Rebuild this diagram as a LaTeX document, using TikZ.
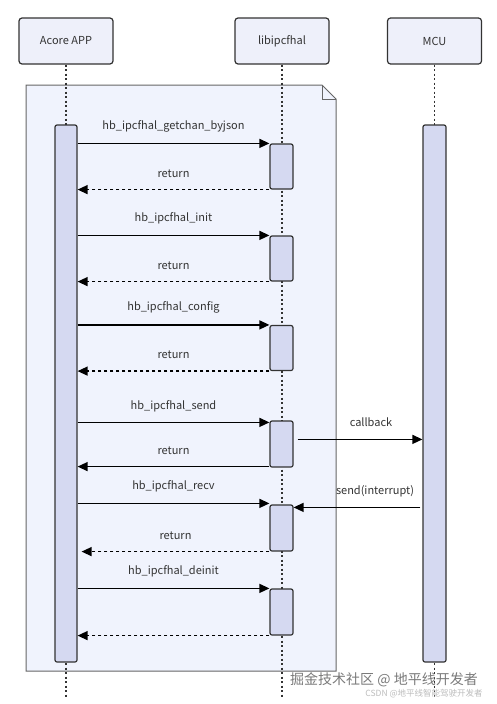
\documentclass[tikz,border=0pt]{standalone}
\usepackage{fontspec}
\setmainfont{Noto Sans CJK SC}
\usetikzlibrary{arrows.meta,positioning,calc}
\definecolor{ink}{HTML}{333333}
\definecolor{partfill}{HTML}{EEF0FA}
\definecolor{actfill}{HTML}{D5D9F1}
\definecolor{framefill}{HTML}{F0F3FD}
\definecolor{framedraw}{HTML}{666666}
\definecolor{wmdark}{HTML}{7A7A7A}
\definecolor{wmlight}{HTML}{BDBDBD}
\tikzset{
  partbox/.style={
    rectangle, rounded corners=3pt, draw=ink, fill=partfill,
    line width=1.2pt, minimum width=94pt, minimum height=46pt,
    font=\fontsize{11}{13}\selectfont, text=ink
  },
  actbox/.style={
    rectangle, rounded corners=2pt, draw=ink, fill=actfill,
    line width=1.2pt, minimum width=22pt, minimum height=#1,
    inner sep=0pt
  },
  actbox/.default=45pt,
  lifeline/.style={ink, line width=1.2pt, dash pattern=on 2pt off 2.5pt},
  callarrow/.style={
    -{Triangle[length=10pt,width=9pt]}, line width=1.25pt, black
  },
  retarrow/.style={callarrow, dash pattern=on 3pt off 3pt},
  msglabel/.style={font=\fontsize{11}{13}\selectfont, text=ink, inner sep=1pt},
  wmark/.style={font=\fontsize{#1}{#1}\selectfont, inner sep=0pt},
}

\begin{document}
\begin{tikzpicture}[x=1pt, y=-1pt]
\useasboundingbox[fill=white] (0,0) rectangle (496,704);

% participants
\node[partbox] (acore) at (66,41) {Acore APP};
\node[partbox] (lib) at (282,41) {libipcfhal};
\node[partbox] (mcu) at (434.5,41) {MCU};

% group frame
\draw[fill=framefill, draw=framedraw, line width=1pt]
  (26,85) -- (322,85) -- (336,99) -- (336,671) -- (26,671) -- cycle;
\draw[draw=framedraw, line width=1pt] (322,85) -- (322,99) -- (336,99);

% lifelines
\coordinate (aEnd) at (66,697);
\coordinate (lEnd) at (282,697);
\coordinate (mEnd) at (434.5,697);
\draw[lifeline] (acore.south) -- (aEnd);
\draw[lifeline] (lib.south) -- (lEnd);
\draw[lifeline] (mcu.south) -- (mEnd);

% activations
\node[actbox=537pt] (aAct) at (66,393.5) {};
\node[actbox=537pt, minimum width=23pt] (mAct) at (434.5,393.5) {};
\node[actbox, minimum width=23pt] (lAct1) at (281.5,166.5) {};
\node[actbox, minimum width=23pt] (lAct2) at (281.5,258.5) {};
\node[actbox, minimum width=23pt] (lAct3) at (281.5,348) {};
\node[actbox=46pt, minimum width=23pt] (lAct4) at (281.5,444) {};
\node[actbox=46pt, minimum width=23pt] (lAct5) at (281.5,528) {};
\node[actbox=46pt, minimum width=23pt] (lAct6) at (281.5,612) {};

% messages
\draw[callarrow] (aAct.east |- lAct1.north) -- (lAct1.north west)
  node[msglabel, midway, yshift=17pt] {hb\_ipcfhal\_getchan\_byjson};
\draw[retarrow] (lAct1.south west) -- (aAct.east |- lAct1.south)
  node[msglabel, midway, yshift=16pt] {return};
\draw[callarrow] (aAct.east |- lAct2.north) -- (lAct2.north west)
  node[msglabel, midway, yshift=17pt] {hb\_ipcfhal\_init};
\draw[retarrow] (lAct2.south west) -- (aAct.east |- lAct2.south)
  node[msglabel, midway, yshift=16pt] {return};
\draw[callarrow] (aAct.east |- lAct3.north) -- (lAct3.north west)
  node[msglabel, midway, yshift=17pt] {hb\_ipcfhal\_config};
\draw[retarrow] (lAct3.south west) -- (aAct.east |- lAct3.south)
  node[msglabel, midway, yshift=16pt] {return};
\draw[callarrow] ([yshift=-2pt]aAct.east |- lAct4.north) -- ([yshift=-2pt]lAct4.north west)
  node[msglabel, midway, yshift=16pt] {hb\_ipcfhal\_send};
\draw[callarrow] ([xshift=4pt, yshift=-19pt]lAct4.north east) -- ([yshift=-19pt]mAct.west |- lAct4.north)
  node[msglabel, midway, xshift=11pt, yshift=17pt] {callback};
\draw[callarrow] ([yshift=1pt]lAct4.south west) -- ([yshift=1pt]aAct.east |- lAct4.south)
  node[msglabel, midway, yshift=16pt] {return};
\draw[callarrow] ([yshift=1pt]aAct.east |- lAct5.north) -- ([yshift=1pt]lAct5.north west)
  node[msglabel, midway, yshift=17pt] {hb\_ipcfhal\_recv};
\draw[callarrow] ([xshift=-2pt, yshift=-3pt]mAct.west |- lAct5.north) -- ([yshift=-3pt]lAct5.north east)
  node[msglabel, midway, xshift=18pt, yshift=16pt] {send(interrupt)};
\draw[retarrow] (lAct5.south west) -- ([xshift=4pt]aAct.east |- lAct5.south)
  node[msglabel, midway, yshift=16pt] {return};
\draw[callarrow] (aAct.east |- lAct6.north) -- (lAct6.north west)
  node[msglabel, midway, yshift=17pt] {hb\_ipcfhal\_deinit};
\draw[retarrow] (lAct6.south west) -- (aAct.east |- lAct6.south);

% watermark
\node[wmark=14, text=wmdark] (wm1) at (384,680) {掘金技术社区 @ 地平线开发者};
\node[wmark=8.5, text=wmlight] (wm2) at (424,694) {CSDN @地平线智能驾驶开发者};
\end{tikzpicture}
\end{document}
